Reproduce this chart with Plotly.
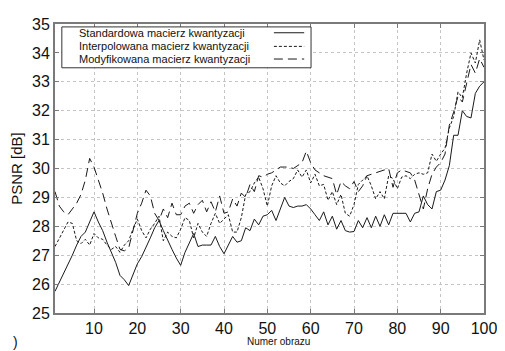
import plotly.graph_objects as go

x_vals = list(range(1, 101))

standardowa = [
    25.75, 26.05, 26.4, 26.7, 27.0, 27.35, 27.65, 27.8, 28.15, 28.5,
    28.15, 27.85, 27.45, 27.1, 26.75, 26.3, 26.15, 25.95, 26.35, 26.7,
    26.95, 27.25, 27.6, 27.95, 28.2, 27.85, 27.5, 27.2, 26.9, 26.65,
    27.1, 27.45, 27.75, 27.3, 27.35, 27.35, 27.35, 27.65, 27.3, 27.05,
    27.35, 27.65, 27.45, 27.5, 27.95, 27.85, 28.25, 28.05, 28.35, 28.4,
    28.55, 28.2, 28.6, 29.0, 28.7, 28.65, 28.7, 28.7, 28.75, 28.6,
    28.4, 28.2, 28.5, 28.05, 28.35, 27.9, 28.2, 27.85, 27.8, 27.82,
    28.2, 27.95, 28.3, 27.95, 28.35, 28.0, 28.4, 28.05, 28.45, 28.45,
    28.45, 28.45, 28.15, 28.45, 28.5, 29.05, 28.75, 28.6, 29.2, 29.25,
    29.6, 30.1, 31.15, 31.15, 32.0, 31.8, 31.75, 32.6, 32.85, 33.0,
]

interpolowana = [
    27.3, 27.6, 27.9, 28.15, 28.1, 27.5, 27.4, 27.55, 27.35, 27.75,
    27.6, 27.55, 27.35, 27.2, 27.3, 27.1, 27.35, 27.5, 27.9, 28.25,
    27.85, 27.6, 27.9, 28.1, 28.35, 27.5, 27.8, 27.65, 27.6, 27.9,
    28.3, 28.2, 27.6, 28.1, 27.8, 27.65, 28.1, 28.45, 28.1, 28.25,
    28.4, 27.8, 27.8, 28.3, 29.1, 29.2, 29.5, 29.7, 29.3, 28.7,
    29.4, 29.75, 29.5, 29.4, 29.55, 29.65, 29.95, 29.7, 29.95, 29.5,
    29.8, 29.4, 29.45, 28.9, 29.2, 28.75, 29.1, 28.45, 28.35, 28.75,
    29.45, 29.6, 29.75, 29.4, 28.95, 29.2, 28.95, 29.75, 29.65, 29.3,
    29.7, 29.75, 29.65, 29.8, 29.85, 29.8, 29.85, 30.5, 30.25, 30.5,
    30.7, 31.4, 31.8, 32.65, 32.45, 33.3, 34.0, 33.65, 34.45, 33.75,
]

modyfikowana = [
    29.2, 28.7, 28.5, 28.4, 28.6, 28.8, 29.1, 29.6, 30.35, 30.05,
    29.6, 29.15, 28.6, 28.1, 27.65, 27.2, 27.15, 27.25, 27.9, 28.45,
    28.8, 29.25, 29.05, 28.45, 28.2, 28.6, 28.3, 28.8, 28.4, 28.4,
    28.7, 28.8, 28.45, 28.75, 28.9, 28.5, 28.85, 28.5, 29.05, 28.45,
    28.5, 28.95, 28.7, 29.15, 29.0, 29.45, 29.2, 29.75, 29.7, 29.8,
    29.85, 29.95, 30.05, 30.05, 30.05, 30.0, 30.1, 30.2, 30.6, 30.2,
    29.95, 29.85, 29.75, 29.7, 29.65, 29.1, 29.55, 29.4, 29.3, 29.55,
    29.2, 29.4, 29.75, 29.8, 29.85, 29.9, 29.95, 30.0, 29.35, 29.85,
    29.95, 29.9, 29.85, 29.6, 29.1, 28.6, 29.3, 29.8, 30.05, 30.2,
    30.5, 31.5, 31.95, 32.5, 32.3, 33.0, 33.6, 33.3, 33.8, 33.5,
]

series_names = [
    "Standardowa macierz kwantyzacji",
    "Interpolowana macierz kwantyzacji",
    "Modyfikowana macierz kwantyzacji",
]
series_values = [standardowa, interpolowana, modyfikowana]
dashes = ["solid", "3px,2px", "9px,5px"]

x_ticks = [10, 20, 30, 40, 50, 60, 70, 80, 90, 100]
y_ticks = [25, 26, 27, 28, 29, 30, 31, 32, 33, 34, 35]

FONT = "Liberation Sans, Arial, sans-serif"
fig = go.Figure()
for name, vals, d in zip(series_names, series_values, dashes):
    fig.add_trace(go.Scatter(x=x_vals, y=vals, mode="lines", name=name,
                             line=dict(color="#1a1a1a", width=1, dash=d),
                             showlegend=False))

# The page body has an 8px margin, so the figure is sized/placed to compensate.
OFF = 8
W, H = 505 - OFF, 351 - OFF
L, R, T, B = 53 - OFF, 13, 16 - OFF, 38
pw, ph = W - L - R, H - T - B

def px(xp):  # reference window pixel -> paper x
    return (xp - OFF - L) / pw

def py(yp):  # reference window pixel -> paper y
    return (H - B - (yp - OFF)) / ph

# Legend (text left, line sample right) drawn in paper coordinates
fig.add_shape(type="rect", xref="paper", yref="paper",
              x0=px(60), x1=px(315), y0=py(61), y1=py(19),
              line=dict(color="#333333", width=1), fillcolor="white", layer="above")
leg_y = [25, 39, 52]
for name, d, ly in zip(series_names, dashes, leg_y):
    fig.add_annotation(xref="paper", yref="paper", x=px(76), y=py(ly),
                       text=name, showarrow=False, xanchor="left", yanchor="middle",
                       font=dict(family=FONT, size=11, color="#111111"))
    fig.add_shape(type="line", xref="paper", yref="paper",
                  x0=px(277), x1=px(308), y0=py(ly), y1=py(ly),
                  line=dict(color="#1a1a1a", width=1, dash=d), layer="above")

fig.add_annotation(xref="paper", yref="paper", x=px(282), y=py(342),
                   text="Numer obrazu", showarrow=False, xanchor="center",
                   yanchor="middle", font=dict(family=FONT, size=10, color="#111111"))
fig.add_annotation(xref="paper", yref="paper", x=px(8), y=py(343),
                   text=")", showarrow=False, xanchor="left",
                   yanchor="middle", font=dict(family=FONT, size=14, color="#111111"))

axis_common = dict(showline=True, linecolor="#7a7a7a", linewidth=2, mirror="ticks",
                   ticks="inside", ticklen=4, tickcolor="#7a7a7a",
                   showgrid=True, gridcolor="#c4c4c4", griddash="3px,3px", gridwidth=1,
                   zeroline=False, ticklabeloverflow="allow",
                   tickfont=dict(family=FONT, size=16, color="#111111"))

fig.update_xaxes(range=[1, 100], tickvals=x_ticks, **axis_common)
fig.update_yaxes(range=[25, 35], tickvals=y_ticks,
                 title=dict(text="PSNR [dB]", font=dict(family=FONT, size=15, color="#111111"),
                            standoff=6), **axis_common)

fig.update_layout(width=W, height=H, margin=dict(l=L, r=R, t=T, b=B),
                  paper_bgcolor="white", plot_bgcolor="white", showlegend=False)

fig.write_html("out.html")
